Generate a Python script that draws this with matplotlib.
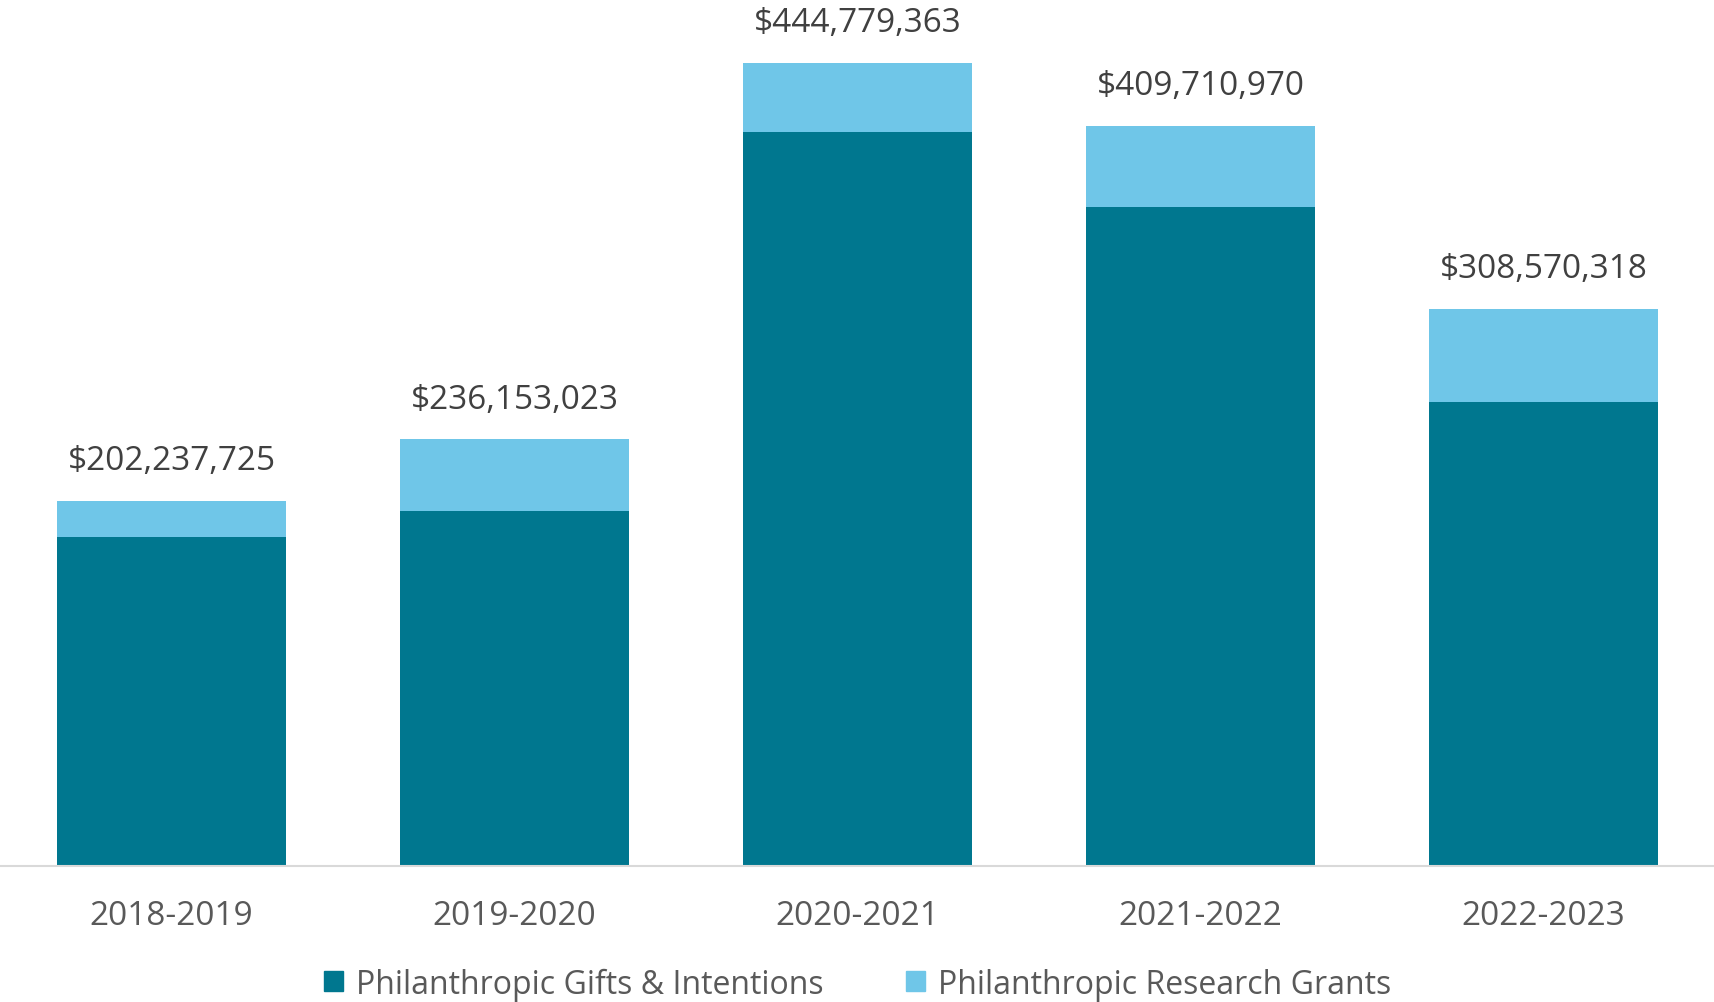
import matplotlib
matplotlib.use("Agg")
from matplotlib import pyplot as plt
from matplotlib.patches import Patch

years = ['2018-2019', '2019-2020', '2020-2021', '2021-2022', '2022-2023']
totals = [202237725, 236153023, 444779363, 409710970, 308570318]
# gifts, grants = total - gifts
gifts = [182.4e6, 196.3e6, 406.4e6, 364.9e6, 256.7e6]
grants = [t - g for t, g in zip(totals, gifts)]

dark = '#00778f'
light = '#6fc6e8'

plt.rcParams['font.family'] = ['Open Sans', 'DejaVu Sans']

fig = plt.figure(figsize=(17.15, 10.03), dpi=100)
ax = fig.add_axes([0.0, 0.1355, 1.0, 0.8645])

x = range(len(years))
ax.bar(x, gifts, width=0.667, color=dark, label='Philanthropic Gifts & Intentions')
ax.bar(x, grants, width=0.667, bottom=gifts, color=light,
       label='Philanthropic Research Grants')

for i, t in enumerate(totals):
    ax.annotate('${:,}'.format(t), (i, t), xytext=(0, 29), textcoords='offset points',
                ha='center', va='center', fontsize=24, color='#404040')

ax.set_xlim(-0.5, len(years) - 0.5)
ax.set_ylim(0, 480e6)
ax.set_xticks(list(x))
ax.set_xticklabels(years, fontsize=24, color='#595959')
ax.tick_params(axis='x', length=0, pad=24)
ax.set_yticks([])
for s in ['top', 'left', 'right']:
    ax.spines[s].set_visible(False)
ax.spines['bottom'].set_color('#d9d9d9')
ax.spines['bottom'].set_linewidth(1.5)

handles = [Patch(color=dark), Patch(color=light)]
fig.legend(handles, ['Philanthropic Gifts & Intentions', 'Philanthropic Research Grants'],
           loc='center', bbox_to_anchor=(0.5, 0.018), ncol=2, frameon=False,
           fontsize=23, labelcolor='#595959', handlelength=0.6, handleheight=0.6,
           handletextpad=0.4, columnspacing=2.6)

fig.savefig('out.png', dpi=100)
